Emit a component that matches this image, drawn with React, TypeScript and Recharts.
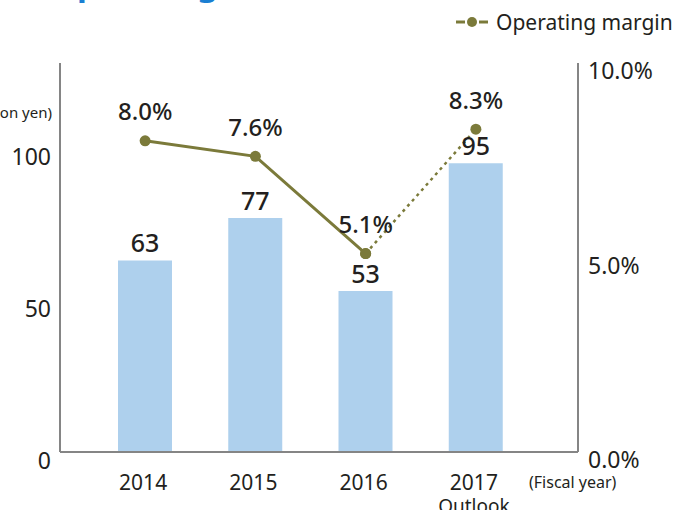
import { ComposedChart, Bar, Line, XAxis, YAxis, LabelList } from "recharts";

const YEARS = ["2014", "2015", "2016", "2017"];
const YEAR_NOTES = ["", "", "", "Outlook"];
const OPERATING_INCOME = [63, 77, 53, 95];
const MARGIN_ACTUAL = [8.0, 7.6, 5.1, null];
const MARGIN_OUTLOOK = [null, null, 5.1, 8.3];
const LEFT_TICKS = [0, 50, 100];
const RIGHT_TICKS = [0, 5, 10];

const BAR_COLOR = "#aed0ed";
const LINE_COLOR = "#7b7a3a";
const AXIS_COLOR = "#858585";
const TEXT_COLOR = "#231f20";
const FONT = "'Noto Sans', sans-serif";

const data = YEARS.map((year, i) => ({
  year,
  note: YEAR_NOTES[i],
  income: OPERATING_INCOME[i],
  actual: MARGIN_ACTUAL[i],
  outlook: MARGIN_OUTLOOK[i],
}));

function LeftTick({ y, payload }: any) {
  return (
    <text x={51} y={y + 9} textAnchor="end" dy="0.35em" fontSize={23} fill={TEXT_COLOR}>
      {payload.value}
    </text>
  );
}

function RightTick({ y, payload }: any) {
  return (
    <text x={588} y={y + 8} textAnchor="start" dy="0.35em" fontSize={23} fill={TEXT_COLOR}>
      {payload.value.toFixed(1)}%
    </text>
  );
}

function YearTick({ x, payload, index }: any) {
  const note = YEAR_NOTES[index];
  return (
    <g>
      <text x={x - 2} y={483} textAnchor="middle" dy="0.35em" fontSize={21} fill={TEXT_COLOR}>
        {payload.value}
      </text>
      {note ? (
        <text x={x - 2} y={506} textAnchor="middle" dy="0.35em" fontSize={19} fill={TEXT_COLOR}>
          {note}
        </text>
      ) : null}
    </g>
  );
}

function BarValue({ x, y, width, value }: any) {
  return (
    <text x={x + width / 2} y={y - 17} textAnchor="middle" dy="0.35em" fontSize={25} fontWeight={500} fill={TEXT_COLOR}>
      {value}
    </text>
  );
}

function MarginValue({ x, y, value, index }: any, skip: (i: number) => boolean) {
  if (value == null || skip(index)) return null;
  return (
    <text x={x} y={y - 29} textAnchor="middle" dy="0.35em" fontSize={24} fontWeight={500} fill={TEXT_COLOR}>
      {value.toFixed(1)}%
    </text>
  );
}

export default function App() {
  return (
    <div
      style={{
        position: "absolute",
        left: 0,
        top: 0,
        width: 673,
        height: 510,
        overflow: "hidden",
        fontFamily: FONT,
        background: "#fff",
      }}
    >
      <ComposedChart width={673} height={510} data={data} margin={{ top: 63, right: 0, bottom: 0, left: 10 }}>
        <XAxis
          dataKey="year"
          height={58}
          padding={{ left: 30, right: 47 }}
          axisLine={{ stroke: AXIS_COLOR, strokeWidth: 2 }}
          tickLine={false}
          interval={0}
          tick={<YearTick />}
        />
        <YAxis
          yAxisId="left"
          width={50}
          domain={[0, 128]}
          ticks={LEFT_TICKS}
          axisLine={{ stroke: AXIS_COLOR, strokeWidth: 2 }}
          tickLine={false}
          tick={<LeftTick />}
        />
        <YAxis
          yAxisId="right"
          orientation="right"
          width={95}
          domain={[0, 10]}
          ticks={RIGHT_TICKS}
          axisLine={{ stroke: AXIS_COLOR, strokeWidth: 2 }}
          tickLine={false}
          tick={<RightTick />}
        />
        <Bar yAxisId="left" dataKey="income" fill={BAR_COLOR} barSize={54} isAnimationActive={false}>
          <LabelList dataKey="income" content={<BarValue />} />
        </Bar>
        <Line
          yAxisId="right"
          dataKey="actual"
          stroke={LINE_COLOR}
          strokeWidth={3}
          dot={{ r: 5.5, fill: LINE_COLOR, stroke: LINE_COLOR, strokeWidth: 0 }}
          isAnimationActive={false}
        >
          <LabelList dataKey="actual" content={(p: any) => MarginValue(p, () => false)} />
        </Line>
        <Line
          yAxisId="right"
          dataKey="outlook"
          stroke={LINE_COLOR}
          strokeWidth={2.5}
          strokeDasharray="3 4"
          dot={{ r: 5.5, fill: LINE_COLOR, stroke: LINE_COLOR, strokeWidth: 0 }}
          isAnimationActive={false}
        >
          <LabelList dataKey="outlook" content={(p: any) => MarginValue(p, (i) => MARGIN_ACTUAL[i] != null)} />
        </Line>
      </ComposedChart>

      <svg width={673} height={510} style={{ position: "absolute", left: 0, top: 0, pointerEvents: "none" }}>
        <text x={51} y={-5} fontSize={33} fontWeight={700} fill="#1a7fd2">
          Operating Income
        </text>
        <text x={52} y={113} textAnchor="end" dy="0.35em" fontSize={15} fill={TEXT_COLOR}>
          (Billion yen)
        </text>
        <text x={529} y={482} dy="0.35em" fontSize={16} fill={TEXT_COLOR}>
          (Fiscal year)
        </text>
        <g>
          <line x1={456} x2={465} y1={22} y2={22} stroke={LINE_COLOR} strokeWidth={3} />
          <circle cx={472} cy={22} r={5} fill={LINE_COLOR} />
          <line x1={479} x2={488} y1={22} y2={22} stroke={LINE_COLOR} strokeWidth={3} />
          <text x={496} y={23} dy="0.35em" fontSize={21} fill={TEXT_COLOR}>
            Operating margin
          </text>
        </g>
      </svg>
    </div>
  );
}
